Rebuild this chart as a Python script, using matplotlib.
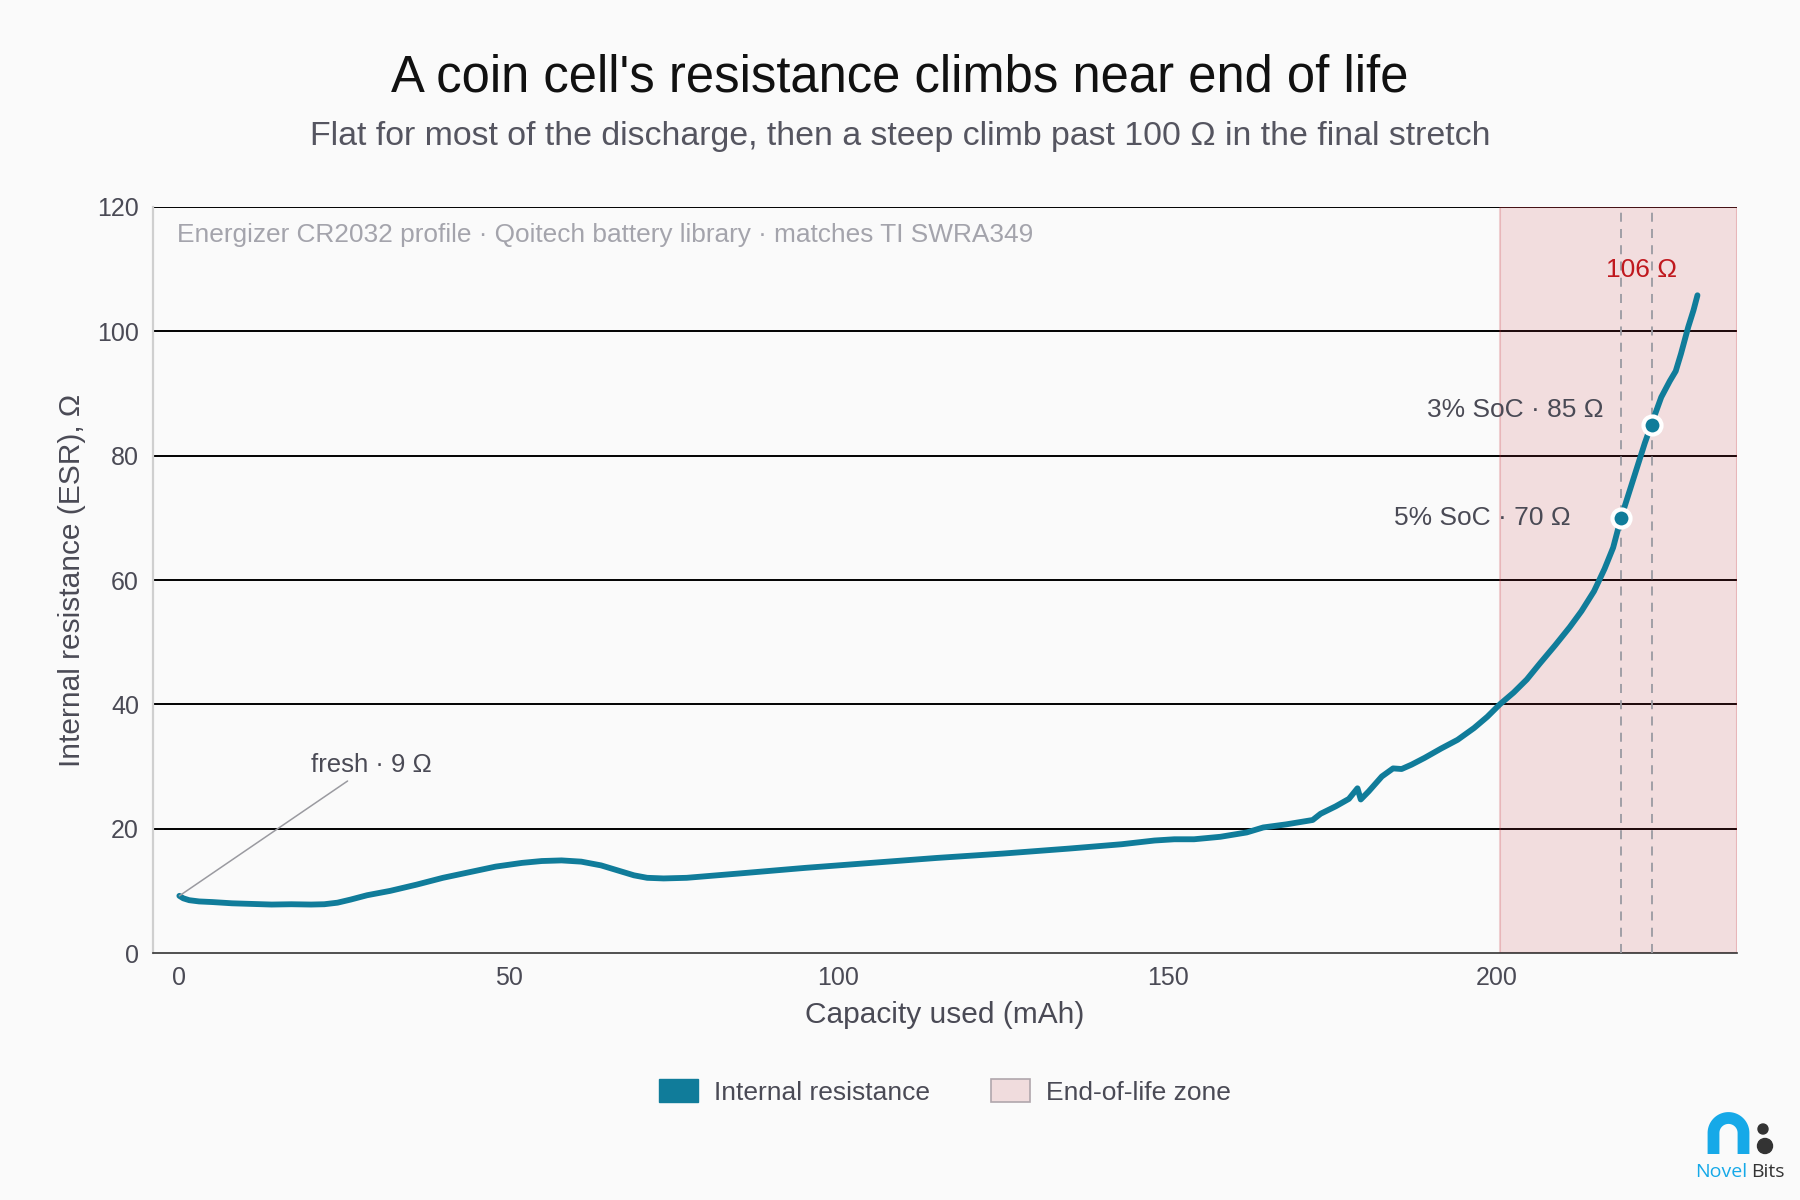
import matplotlib
matplotlib.use("Agg")
import matplotlib.pyplot as plt
from matplotlib.patches import Patch, Circle
import numpy as np

# ---------------------------------------------------------------------------
# Data
# ---------------------------------------------------------------------------
CAPACITY_MAH = [
    0.0, 0.6, 1.5, 3.0, 5.0, 8.0, 11.0, 14.0, 17.0, 20.0, 22.0, 24.0, 26.0,
    28.5, 32.0, 36.0, 40.0, 44.0, 48.0, 52.0, 55.0, 58.0, 61.0, 64.0, 66.5,
    69.0, 71.0, 73.5, 77.0, 85.0, 95.0, 105.0, 115.0, 125.0, 135.0, 143.0,
    148.0, 151.0, 154.0, 158.0, 162.0, 164.5, 168.0, 172.0, 173.2, 175.5,
    177.5, 178.8, 179.3, 180.5, 182.5, 184.2, 185.5, 187.0, 189.0, 191.5,
    194.0, 196.5, 198.5, 200.4, 202.5, 204.5, 206.5, 208.8, 211.0, 212.8,
    214.7, 216.3, 217.6, 218.8, 220.0, 221.2, 222.4, 223.5, 224.9, 226.2,
    227.1, 227.9, 229.0, 229.8, 230.4,
]
ESR_OHM = [
    9.2, 8.8, 8.5, 8.3, 8.2, 8.0, 7.9, 7.8, 7.85, 7.8, 7.85, 8.1, 8.6,
    9.3, 10.0, 11.0, 12.1, 13.0, 13.9, 14.5, 14.8, 14.9, 14.7, 14.1, 13.3,
    12.5, 12.1, 12.0, 12.1, 12.8, 13.7, 14.5, 15.3, 16.0, 16.8, 17.5,
    18.1, 18.3, 18.3, 18.7, 19.4, 20.2, 20.7, 21.4, 22.4, 23.6,
    24.8, 26.5, 24.7, 26.0, 28.4, 29.7, 29.6, 30.3, 31.4, 32.9,
    34.3, 36.2, 38.0, 40.0, 41.9, 44.0, 46.6, 49.5, 52.4, 55.0,
    58.2, 61.8, 65.2, 70.0, 74.0, 78.0, 82.0, 85.3, 89.4, 92.0,
    93.6, 96.4, 100.7, 103.4, 105.8,
]

SOC_MARK_MAH = [218.8, 223.5]
SOC_MARK_OHM = [70, 85]
SOC_MARK_LABELS = ["5% SoC \u00b7 70 \u03a9", "3% SoC \u00b7 85 \u03a9"]

EOL_START_MAH = 200.4
FRESH_LABEL = "fresh \u00b7 9 \u03a9"
END_LABEL = "106 \u03a9"

Y_TICKS = [0, 20, 40, 60, 80, 100, 120]
X_TICKS = [0, 50, 100, 150, 200]
X_MAX = 236.4

# ---------------------------------------------------------------------------
# Style
# ---------------------------------------------------------------------------
BG = "#fafafa"
LINE_COLOR = "#107c9a"
EOL_RGB = (0.78, 0.18, 0.22)
TEXT_DARK = "#4a4a55"
TEXT_LIGHT = "#a4a4ac"
RED = "#c0181e"

plt.rcParams["font.family"] = ["Liberation Sans", "DejaVu Sans"]

fig = plt.figure(figsize=(18, 12), dpi=100, facecolor=BG)
ax = fig.add_axes([0.085, 0.2058, 0.88, 0.6217], facecolor=BG)

ax.set_xlim(-4, X_MAX)
ax.set_ylim(0, 120)

# grid first, zone on top of it
for yv in Y_TICKS[1:]:
    ax.axhline(yv, color="black", lw=1.4, zorder=1)
ax.axvspan(EOL_START_MAH, X_MAX, facecolor=EOL_RGB + (0.14,),
           edgecolor=EOL_RGB + (0.22,), lw=1.5, zorder=2)

# SoC reference lines
for xm in SOC_MARK_MAH:
    ax.axvline(xm, color="#9a9aa2", lw=1.3, ls=(0, (5, 4)), zorder=3)

ax.plot(CAPACITY_MAH, ESR_OHM, color=LINE_COLOR, lw=4.2,
        solid_capstyle="round", solid_joinstyle="round", zorder=4)
ax.plot(SOC_MARK_MAH, SOC_MARK_OHM, "o", ms=13, mfc=LINE_COLOR,
        mec="white", mew=3, zorder=5)

# annotations
offsets = [(-36.5, 0), (-34.6, 10.3)]
for xm, ym, lab, off in zip(SOC_MARK_MAH, SOC_MARK_OHM, SOC_MARK_LABELS, offsets):
    ax.annotate(lab, (xm, ym), xytext=off, textcoords="offset points",
                ha="right", va="center", fontsize=19, color=TEXT_DARK, zorder=6)

ax.annotate(END_LABEL, (CAPACITY_MAH[-1], ESR_OHM[-1]), xytext=(-40, 18),
            textcoords="offset points", ha="center", va="center",
            fontsize=19, color=RED, zorder=6)

ax.annotate(FRESH_LABEL, (CAPACITY_MAH[0], ESR_OHM[0]), xytext=(20, 30.3),
            ha="left", va="center", fontsize=18.5, color=TEXT_DARK,
            arrowprops=dict(arrowstyle="-", color="#9a9aa0", lw=1.1,
                            shrinkA=2, shrinkB=0), zorder=6)

ax.text(0.015, 0.962,
        "Energizer CR2032 profile \u00b7 Qoitech battery library \u00b7 matches TI SWRA349",
        transform=ax.transAxes, ha="left", va="center", fontsize=18.9,
        color=TEXT_LIGHT)

# axes styling
ax.set_xticks(X_TICKS)
ax.set_yticks(Y_TICKS)
ax.tick_params(length=0, labelsize=18, colors=TEXT_DARK)
ax.tick_params(axis="x", pad=9)
ax.tick_params(axis="y", pad=10)
for s in ("top", "right"):
    ax.spines[s].set_visible(False)
ax.spines["left"].set_color("#cfcfcf")
ax.spines["left"].set_linewidth(1.6)
ax.spines["bottom"].set_color("#333333")
ax.spines["bottom"].set_linewidth(1.2)

ax.set_xlabel("Capacity used (mAh)", fontsize=21.5, color=TEXT_DARK, labelpad=8)
ax.set_ylabel("Internal resistance (ESR), \u03a9", fontsize=21.5, color=TEXT_DARK,
              labelpad=8)

fig.text(0.5, 0.935, "A coin cell's resistance climbs near end of life",
         ha="center", va="center", fontsize=36.5, color="#111111")
fig.text(0.5, 0.886,
         "Flat for most of the discharge, then a steep climb past 100 \u03a9 in the final stretch",
         ha="center", va="center", fontsize=24.4, color="#555560")

handles = [
    Patch(facecolor=LINE_COLOR, edgecolor=LINE_COLOR, label="Internal resistance"),
    Patch(facecolor="#f0dcdd", edgecolor="#b0a6ac", lw=1.2, label="End-of-life zone"),
]
fig.legend(handles=handles, loc="center", bbox_to_anchor=(0.525, 0.09), ncol=2,
           frameon=False, fontsize=19, labelcolor=TEXT_DARK,
           handlelength=1.5, handleheight=0.95, handletextpad=0.6,
           columnspacing=2.3)

# Novel Bits logo (pixel coords)
lax = fig.add_axes([1680 / 1800, 10 / 1200, 120 / 1800, 95 / 1200])
lax.set_xlim(1680, 1800)
lax.set_ylim(1190, 1095)
lax.axis("off")
theta = np.linspace(np.pi, 0, 60)
arch_x = np.concatenate([[1713.5], 1728.5 + 15 * np.cos(theta), [1743.5]])
arch_y = np.concatenate([[1154], 1133 - 15 * np.sin(theta), [1154]])
lax.plot(arch_x, arch_y, color="#16a9e8", lw=8.5, solid_capstyle="butt")
lax.add_patch(Circle((1763, 1129), 5, color="#333333"))
lax.add_patch(Circle((1765, 1146), 7.5, color="#333333"))
lax.text(1747, 1177, "Novel", ha="right", va="baseline", fontsize=14,
         color="#16a9e8", family=["Open Sans", "DejaVu Sans"])
lax.text(1751, 1177, "Bits", ha="left", va="baseline", fontsize=14,
         color="#333333", family=["Open Sans", "DejaVu Sans"])

fig.savefig("out.png", dpi=100, facecolor=BG)
